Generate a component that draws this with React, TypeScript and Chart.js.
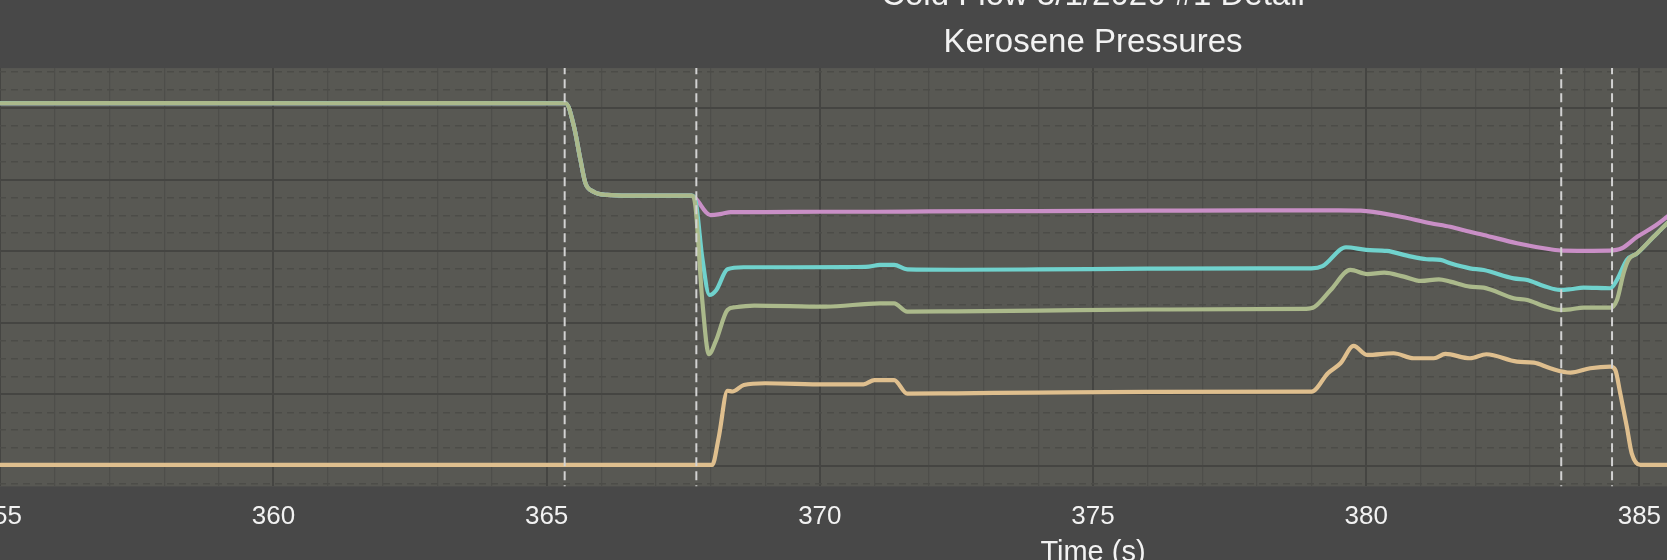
import React, { useEffect, useRef } from "react";
import { Chart, registerables } from "chart.js";

Chart.register(...registerables);

// text
const titleLines = ["Cold Flow 5/1/2026 #1 Detail", "Kerosene Pressures"];
const xLabel = "Time (s)";

// axis ranges (y units are the chart's hidden pressure scale)
const xMin = 353;
const xMax = 397;
const yMin = -28.5;
const yMax = 555.7;
const xMajorTicks = [355, 360, 365, 370, 375, 380, 385, 390, 395];
const yMajorTicks = [0, 100, 200, 300, 400, 500];

// event markers (dashed verticals)
const eventTimes = [365.33, 367.74, 383.57, 384.5];

// shared trace before the branches split
const sharedTime = [352, 355, 358, 361, 363, 365.35, 365.5, 365.62, 365.71, 365.86, 366.11, 366.5, 367.0, 367.65];
const sharedPsi = [506.5, 506.5, 506.8, 506.5, 506.7, 506.5, 474, 427, 395, 383, 378.5, 377.5, 377.5, 377.5];

const pinkTime = [367.72, 368.0, 368.2, 368.37, 369, 370, 371, 372, 374, 376, 378, 379.5, 379.9, 380.57, 381.18, 381.54, 381.9, 382.15, 382.76, 383.37, 383.6, 384.0, 384.45, 384.68, 384.96, 385.26, 385.51, 385.7];
const pinkPsi = [374, 350.3, 352, 354.5, 354.5, 355, 355, 355.5, 356, 356.5, 357, 357, 356.6, 349, 339, 334, 327, 322.6, 311, 302.6, 300.7, 300.5, 300.7, 304, 320, 334, 348, 359];

const cyanTime = [367.72, 367.85, 367.98, 368.1, 368.31, 368.6, 369.5, 370.5, 370.9, 371.1, 371.36, 371.6, 372.5, 374, 376, 378, 379.0, 379.2, 379.63, 380.0, 380.38, 380.75, 381.11, 381.36, 381.54, 381.9, 382.15, 382.7, 382.95, 383.25, 383.55, 383.74, 383.98, 384.47, 384.59, 384.77, 384.96, 385.26, 385.51, 385.7];
const cyanPsi = [372, 290, 238.8, 245, 274.7, 277.5, 277.5, 277.8, 278.5, 280.7, 280.7, 274.5, 274, 274.5, 275.5, 276, 276, 279, 305.4, 301.7, 300.3, 293.7, 288.7, 287.7, 283, 276, 273.7, 262, 259.8, 251.4, 245.8, 246.8, 249, 248.2, 259.8, 287.7, 297, 320, 339, 352];

const greenTime = [367.72, 367.85, 367.97, 368.1, 368.31, 368.45, 368.8, 370.1, 371.1, 371.36, 371.6, 372.5, 374, 376, 378.9, 379.05, 379.35, 379.71, 380.02, 380.33, 380.69, 381.0, 381.33, 381.54, 381.9, 382.15, 382.7, 382.95, 383.25, 383.55, 383.74, 383.98, 384.47, 384.59, 384.71, 384.8, 384.96, 385.26, 385.51, 385.7];
const greenPsi = [365, 230, 156, 175, 217.9, 221.6, 223.9, 222.5, 227, 227, 215.5, 216, 217, 218.5, 219.5, 222, 245.8, 273.7, 268, 270, 264.4, 258.4, 260.7, 257.4, 250.4, 249, 234.2, 231.8, 223.5, 217.9, 218.8, 221.1, 221.1, 231.8, 269, 287.7, 297, 320, 339, 352];

const orangeTime = [352, 355, 360, 365, 368.03, 368.15, 368.31, 368.4, 368.61, 369.0, 370.1, 370.8, 371.0, 371.36, 371.6, 372.5, 374, 376, 379.0, 379.3, 379.53, 379.77, 380.02, 380.5, 380.87, 381.24, 381.45, 381.9, 382.2, 382.76, 383.07, 383.37, 383.74, 384.1, 384.47, 384.56, 384.65, 384.77, 384.86, 385.02, 385.7];
const orangePsi = [1.4, 1.4, 1.4, 1.4, 1.4, 40, 105, 104, 113, 115.5, 114, 114, 120, 120, 101, 101.5, 102.5, 103.5, 103.8, 129.5, 143.4, 167.6, 155, 157.4, 150.4, 150.4, 156.4, 150.4, 156, 145.7, 144.3, 136.4, 130.3, 136.4, 138.7, 134, 101.5, 55, 17.7, 1.4, 1.4];

const FONT = "'Liberation Sans', Arial, Helvetica, sans-serif";
const TEXT = "#f2f2f2";

const toPoints = (xs: number[], ys: number[]) => xs.map((x, i) => ({ x, y: ys[i] }));

const xMinorTicks: number[] = [];
for (let t = xMin; t <= xMax; t++) if (t % 5 !== 0) xMinorTicks.push(t);
const yMinorTicks: number[] = [];
for (let v = -25; v <= 550; v += 25) if (v % 100 !== 0) yMinorTicks.push(v);

const plotBackground = {
  id: "plotBackground",
  beforeDraw(chart: Chart) {
    const { ctx, chartArea } = chart;
    ctx.save();
    ctx.fillStyle = "#585853";
    ctx.fillRect(chartArea.left, chartArea.top, chartArea.width, chartArea.height);
    ctx.restore();
  },
};

const trace = (data: { x: number; y: number }[], color: string) => ({
  data,
  borderColor: color,
  backgroundColor: color,
  borderWidth: 4.2,
  pointRadius: 0,
  cubicInterpolationMode: "monotone" as const,
  borderJoinStyle: "round" as const,
  borderCapStyle: "round" as const,
  xAxisID: "x",
  yAxisID: "y",
});

const CANVAS_W = 2404;
const CANVAS_H = 590;

const App: React.FC = () => {
  const canvasRef = useRef<HTMLCanvasElement | null>(null);
  const chartRef = useRef<Chart | null>(null);

  useEffect(() => {
    const ctx = canvasRef.current?.getContext("2d");
    if (!ctx) return;
    chartRef.current?.destroy();

    const eventSets = eventTimes.map((t) => ({
      data: [
        { x: t, y: yMin - 50 },
        { x: t, y: yMax + 50 },
      ],
      borderColor: "#d2d2d2",
      borderWidth: 2,
      borderDash: [9, 5],
      pointRadius: 0,
      xAxisID: "x",
      yAxisID: "y",
    }));

    chartRef.current = new Chart(ctx, {
      type: "line",
      data: {
        datasets: [
          ...eventSets,
          trace(toPoints([...sharedTime, ...greenTime], [...sharedPsi, ...greenPsi]), "#abb98b"),
          trace(toPoints([...sharedTime, ...cyanTime], [...sharedPsi, ...cyanPsi]), "#70d2cd"),
          trace(toPoints([...sharedTime, ...pinkTime], [...sharedPsi, ...pinkPsi]), "#c98fc6"),
          trace(toPoints(orangeTime, orangePsi), "#dfbf8e"),
        ] as any,
      },
      options: {
        responsive: false,
        animation: false,
        layout: { padding: 0 },
        plugins: {
          legend: { display: false },
          tooltip: { enabled: false },
          title: {
            display: true,
            text: titleLines,
            color: TEXT,
            font: { family: FONT, size: 33, weight: "normal", lineHeight: 1.44 },
            padding: { top: 0, bottom: 1 },
          },
        },
        scales: {
          x: {
            type: "linear",
            axis: "x",
            position: "bottom",
            min: xMin,
            max: xMax,
            afterBuildTicks: (s: any) => {
              s.ticks = xMajorTicks.map((value) => ({ value }));
            },
            ticks: {
              color: TEXT,
              font: { family: FONT, size: 26 },
              padding: 14.4,
              autoSkip: false,
              maxRotation: 0,
              callback: (v: any) => String(v),
            },
            grid: { color: "#454542", lineWidth: 2, drawTicks: false },
            border: { display: false },
            title: {
              display: true,
              text: xLabel,
              color: TEXT,
              font: { family: FONT, size: 29, lineHeight: 0.47 },
              padding: { top: 0, bottom: 2 },
            },
          },
          xMinor: {
            type: "linear",
            axis: "x",
            position: "bottom",
            min: xMin,
            max: xMax,
            z: -1,
            afterBuildTicks: (s: any) => {
              s.ticks = xMinorTicks.map((value) => ({ value }));
            },
            ticks: { display: false },
            grid: { color: "#4e4e4a", lineWidth: 1.2, drawTicks: false },
            border: { display: false },
          },
          y: {
            type: "linear",
            axis: "y",
            position: "left",
            min: yMin,
            max: yMax,
            afterBuildTicks: (s: any) => {
              s.ticks = yMajorTicks.map((value) => ({ value }));
            },
            ticks: { display: false },
            grid: { color: "#454542", lineWidth: 2, drawTicks: false },
            border: { display: false },
          },
          yMinor: {
            type: "linear",
            axis: "y",
            position: "left",
            min: yMin,
            max: yMax,
            z: -1,
            afterBuildTicks: (s: any) => {
              s.ticks = yMinorTicks.map((value) => ({ value }));
            },
            ticks: { display: false },
            grid: { color: "#4c4c48", lineWidth: 1.5, drawTicks: false },
            border: { display: false, dash: [7, 5] },
          },
        },
      } as any,
      plugins: [plotBackground],
    });

    return () => {
      chartRef.current?.destroy();
      chartRef.current = null;
    };
  }, []);

  return (
    <div
      style={{
        position: "fixed",
        left: 0,
        top: 0,
        width: 1667,
        height: 560,
        overflow: "hidden",
        background: "#484848",
      }}
    >
      <canvas
        ref={canvasRef}
        width={CANVAS_W}
        height={CANVAS_H}
        style={{ position: "absolute", left: -109, top: -28, width: CANVAS_W, height: CANVAS_H }}
      />
    </div>
  );
};

export default App;
